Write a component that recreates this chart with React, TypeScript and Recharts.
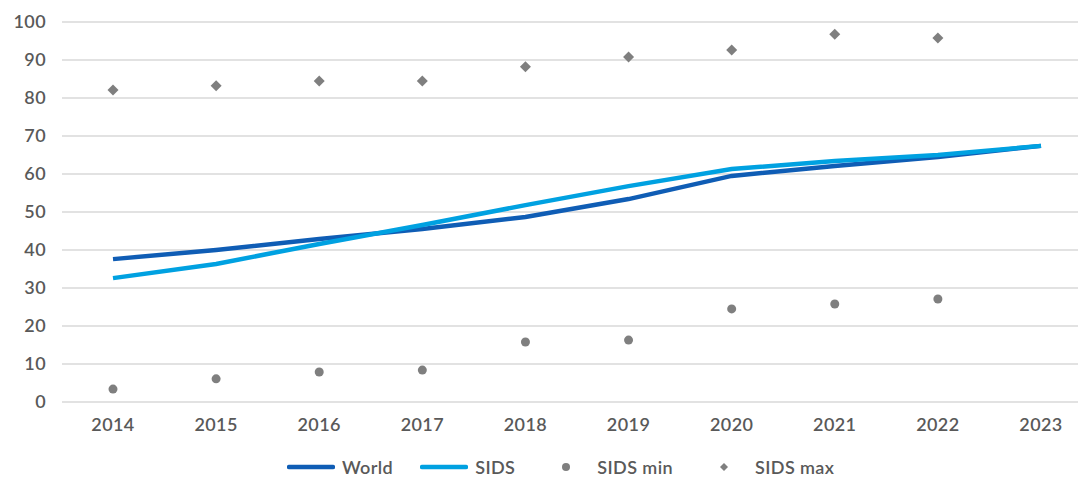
import { LineChart, Line, XAxis, YAxis, CartesianGrid } from "recharts";

const years = ["2014", "2015", "2016", "2017", "2018", "2019", "2020", "2021", "2022", "2023"];
const world = [37.6, 40, 42.9, 45.5, 48.7, 53.4, 59.5, 62.1, 64.5, 67.4];
const sids = [32.6, 36.3, 41.6, 46.6, 51.8, 56.8, 61.3, 63.4, 65, 67.4];
const sidsMin = [3.4, 6.1, 7.9, 8.4, 15.8, 16.3, 24.5, 25.8, 27.1, null];
const sidsMax = [82.1, 83.2, 84.5, 84.5, 88.2, 90.8, 92.6, 96.8, 95.8, null];
const yTicks = [0, 10, 20, 30, 40, 50, 60, 70, 80, 90, 100];

const data = years.map((year, i) => ({
  year,
  world: world[i],
  sids: sids[i],
  sidsMin: sidsMin[i],
  sidsMax: sidsMax[i],
}));

const WORLD = "#0f5db5";
const SIDS = "#00a1e1";
const GREY = "#7f7f7f";
const TEXT = "#595959";
const FONT = "Lato, 'Noto Sans', sans-serif";
const tickStyle = { fill: TEXT, fontSize: 18, fontWeight: 600, fontFamily: FONT, letterSpacing: 0.4 };

const CircleDot = (props: any) => {
  const { cx, cy, index } = props;
  if (cy == null || isNaN(cy)) return <g key={index} />;
  return <circle key={index} cx={cx} cy={cy} r={4.5} fill={GREY} />;
};

const DiamondDot = (props: any) => {
  const { cx, cy, index } = props;
  if (cy == null || isNaN(cy)) return <g key={index} />;
  const s = 5.5;
  return (
    <path
      key={index}
      d={`M${cx},${cy - s}L${cx + s},${cy}L${cx},${cy + s}L${cx - s},${cy}Z`}
      fill={GREY}
    />
  );
};

const legendItems = [
  { label: "World", kind: "line", color: WORLD },
  { label: "SIDS", kind: "line", color: SIDS },
  { label: "SIDS min", kind: "circle", color: GREY },
  { label: "SIDS max", kind: "diamond", color: GREY },
];

// legend drawn as plain html under the plot
const ChartLegend = () => (
  <div
    style={{
      position: "absolute",
      left: 287,
      top: 457,
      display: "flex",
      alignItems: "center",
      gap: 27,
      fontFamily: FONT,
      fontSize: 18,
      fontWeight: 600,
      letterSpacing: 0.4,
      color: TEXT,
      lineHeight: "20px",
      whiteSpace: "nowrap",
    }}
  >
    {legendItems.map((it) => (
      <div key={it.label} style={{ display: "flex", alignItems: "center", gap: 7 }}>
        <svg width={48} height={14} style={{ display: "block" }}>
          {it.kind === "line" && (
            <line x1={2} y1={7} x2={46} y2={7} stroke={it.color} strokeWidth={4.5} strokeLinecap="round" />
          )}
          {it.kind === "circle" && <circle cx={24} cy={7} r={4} fill={it.color} />}
          {it.kind === "diamond" && <path d="M24,3L28,7L24,11L20,7Z" fill={it.color} />}
        </svg>
        <span>{it.label}</span>
      </div>
    ))}
  </div>
);

export default function App() {
  return (
    <div
      style={{
        position: "absolute",
        left: 0,
        top: 0,
        width: 1078,
        height: 477,
        overflow: "hidden",
        background: "#fff",
      }}
    >
      <LineChart
        width={1100}
        height={477}
        data={data}
        margin={{ top: 22, right: 8, bottom: 30, left: 0 }}
      >
        <CartesianGrid vertical={false} stroke="#d9d9d9" strokeWidth={1.5} />
        <XAxis
          dataKey="year"
          axisLine={false}
          tickLine={false}
          tickMargin={10}
          padding={{ left: 51, right: 51 }}
          tick={tickStyle}
          height={45}
        />
        <YAxis
          domain={[0, 100]}
          ticks={yTicks}
          axisLine={false}
          tickLine={false}
          width={62}
          tickMargin={10}
          tick={tickStyle}
        />
        <Line
          dataKey="world"
          stroke={WORLD}
          strokeWidth={4.5}
          dot={false}
          type="linear"
          isAnimationActive={false}
        />
        <Line
          dataKey="sids"
          stroke={SIDS}
          strokeWidth={4.5}
          dot={false}
          type="linear"
          isAnimationActive={false}
        />
        <Line
          dataKey="sidsMin"
          stroke="none"
          strokeWidth={0}
          dot={CircleDot}
          activeDot={false}
          isAnimationActive={false}
        />
        <Line
          dataKey="sidsMax"
          stroke="none"
          strokeWidth={0}
          dot={DiamondDot}
          activeDot={false}
          isAnimationActive={false}
        />
      </LineChart>
      <ChartLegend />
    </div>
  );
}
